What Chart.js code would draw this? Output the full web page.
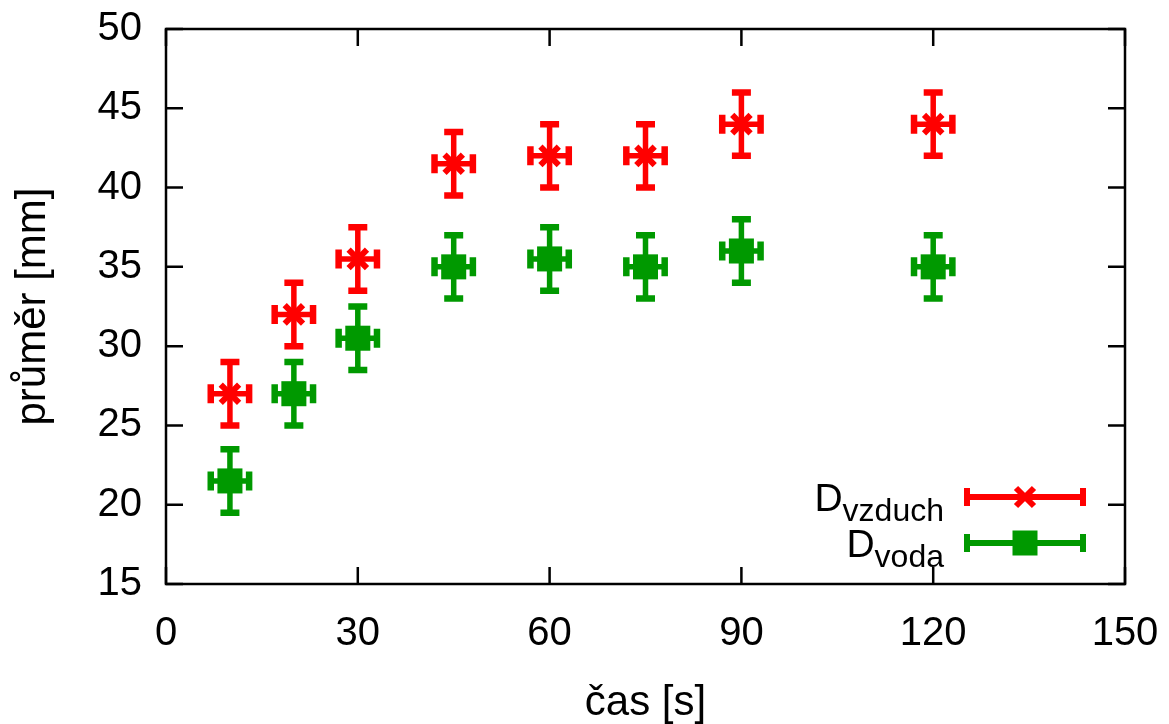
<!DOCTYPE html>
<html>
<head>
<meta charset="utf-8">
<script src="https://cdn.jsdelivr.net/npm/chart.js@4.4.0/dist/chart.umd.min.js"></script>
<style>
  html, body { margin: 0; padding: 0; background: #fff; }
  #wrap { width: 1169px; height: 724px; }
</style>
</head>
<body>
<div id="wrap"><canvas id="chart" width="1169" height="724"></canvas></div>
<script>
// cas v sekundach
const casS = [10, 20, 30, 45, 60, 75, 90, 120];
// prumer ve vzduchu a ve vode [mm]
const dVzduch = [27, 32, 35.5, 41.5, 42, 42, 44, 44];
const dVoda = [21.5, 27, 30.5, 35, 35.5, 35, 36, 35];
// chyby mereni
const chybaCas = [3, 3, 3, 3, 3, 3, 3, 3];
const chybaPrumer = [2, 2, 2, 2, 2, 2, 2, 2];
// popisky os
const xTicks = [0, 30, 60, 90, 120, 150];
const yTicks = [15, 20, 25, 30, 35, 40, 45, 50];

const FONT = "'Liberation Sans', Arial, sans-serif";
const RED = '#ff0000';
const GREEN = '#009900';

function makeData(values) {
  return casS.map((t, i) => ({ x: t, y: values[i], ex: chybaCas[i], ey: chybaPrumer[i] }));
}

// chybove usecky (xyerrorbars)
const errorBars = {
  id: 'errorBars',
  beforeDatasetsDraw(chart) {
    const { ctx, scales: { x, y } } = chart;
    const cap = 9.5;
    chart.data.datasets.forEach(ds => {
      ctx.save();
      ctx.strokeStyle = ds.borderColor;
      ctx.lineCap = 'butt';
      ds.data.forEach(p => {
        const cx = x.getPixelForValue(p.x), cy = y.getPixelForValue(p.y);
        const x0 = x.getPixelForValue(p.x - p.ex), x1 = x.getPixelForValue(p.x + p.ex);
        const y0 = y.getPixelForValue(p.y - p.ey), y1 = y.getPixelForValue(p.y + p.ey);
        ctx.lineWidth = 5.5;
        ctx.beginPath();
        ctx.moveTo(x0, cy); ctx.lineTo(x1, cy);
        ctx.moveTo(cx, y0); ctx.lineTo(cx, y1);
        ctx.stroke();
        ctx.lineWidth = 6.5;
        ctx.beginPath();
        ctx.moveTo(x0, cy - cap); ctx.lineTo(x0, cy + cap);
        ctx.moveTo(x1, cy - cap); ctx.lineTo(x1, cy + cap);
        ctx.moveTo(cx - cap, y0); ctx.lineTo(cx + cap, y0);
        ctx.moveTo(cx - cap, y1); ctx.lineTo(cx + cap, y1);
        ctx.stroke();
      });
      ctx.restore();
    });
  }
};

// legenda s dolnim indexem
const subLegend = {
  id: 'subLegend',
  afterDatasetsDraw(chart) {
    const ctx = chart.ctx;
    const items = [
      { sub: 'vzduch', y: 497, color: RED, marker: 'x' },
      { sub: 'voda', y: 543, color: GREEN, marker: 'sq' }
    ];
    const right = 944, l0 = 967, l1 = 1083, mx = 1025;
    ctx.save();
    items.forEach(it => {
      ctx.fillStyle = '#000';
      ctx.textBaseline = 'alphabetic';
      ctx.textAlign = 'left';
      ctx.font = '39px ' + FONT;
      const wD = ctx.measureText('D').width;
      ctx.font = '32px ' + FONT;
      const wS = ctx.measureText(it.sub).width;
      const start = right - wD - wS;
      ctx.font = '39px ' + FONT;
      ctx.fillText('D', start, it.y + 14);
      ctx.font = '32px ' + FONT;
      ctx.fillText(it.sub, start + wD, it.y + 24);

      ctx.strokeStyle = it.color;
      ctx.lineWidth = 6;
      ctx.beginPath();
      ctx.moveTo(l0, it.y); ctx.lineTo(l1, it.y);
      ctx.moveTo(l0, it.y - 9); ctx.lineTo(l0, it.y + 9);
      ctx.moveTo(l1, it.y - 9); ctx.lineTo(l1, it.y + 9);
      ctx.stroke();
      if (it.marker === 'x') {
        ctx.beginPath();
        ctx.moveTo(mx - 9, it.y - 9); ctx.lineTo(mx + 9, it.y + 9);
        ctx.moveTo(mx - 9, it.y + 9); ctx.lineTo(mx + 9, it.y - 9);
        ctx.stroke();
      } else {
        ctx.fillStyle = it.color;
        ctx.fillRect(mx - 12.5, it.y - 12.5, 25, 25);
      }
    });
    ctx.restore();
  }
};

// ramecek a znacky smerem dovnitr
const frame = {
  id: 'frame',
  afterDraw(chart) {
    const { ctx, chartArea: a, scales: { x, y } } = chart;
    const tl = 17;
    ctx.save();
    ctx.strokeStyle = '#000';
    ctx.lineWidth = 2.5;
    ctx.beginPath();
    xTicks.forEach(v => {
      const px = x.getPixelForValue(v);
      ctx.moveTo(px, a.bottom); ctx.lineTo(px, a.bottom - tl);
      ctx.moveTo(px, a.top); ctx.lineTo(px, a.top + tl);
    });
    yTicks.forEach(v => {
      const py = y.getPixelForValue(v);
      ctx.moveTo(a.left, py); ctx.lineTo(a.left + tl, py);
      ctx.moveTo(a.right, py); ctx.lineTo(a.right - tl, py);
    });
    ctx.stroke();
    ctx.strokeRect(a.left, a.top, a.right - a.left, a.bottom - a.top);
    ctx.restore();
  }
};

const tickFont = { family: FONT, size: 40 };
const titleFont = { family: FONT, size: 42, lineHeight: 1 };

new Chart(document.getElementById('chart'), {
  type: 'scatter',
  data: {
    datasets: [
      {
        label: 'D vzduch',
        data: makeData(dVzduch),
        borderColor: RED,
        backgroundColor: RED,
        pointStyle: 'crossRot',
        pointRadius: 13,
        pointBorderWidth: 6
      },
      {
        label: 'D voda',
        data: makeData(dVoda),
        borderColor: GREEN,
        backgroundColor: GREEN,
        pointStyle: 'rect',
        pointRadius: 17.7,
        pointBorderWidth: 0
      }
    ]
  },
  options: {
    responsive: false,
    animation: false,
    devicePixelRatio: 1,
    layout: { padding: { left: 0, right: 44, top: 29, bottom: 0 } },
    plugins: { legend: { display: false }, tooltip: { enabled: false } },
    scales: {
      x: {
        type: 'linear', min: 0, max: 150,
        afterBuildTicks: s => { s.ticks = xTicks.map(v => ({ value: v })); },
        ticks: { color: '#000', font: tickFont, padding: 26, maxRotation: 0 },
        grid: { display: false, drawTicks: false },
        border: { display: false },
        title: { display: true, text: 'čas [s]', color: '#000', font: titleFont, padding: 0 },
        afterFit: s => {
          s.height = 140;
          s.paddingLeft = 0; s.paddingRight = 0;
        }
      },
      y: {
        type: 'linear', min: 15, max: 50,
        afterBuildTicks: s => { s.ticks = yTicks.map(v => ({ value: v })); },
        ticks: { color: '#000', font: tickFont, padding: 24 },
        grid: { display: false, drawTicks: false },
        border: { display: false },
        title: { display: true, text: 'průměr [mm]', color: '#000', font: titleFont, padding: { top: 12, bottom: 0 } },
        afterFit: s => {
          s.width = 166;
          s.paddingTop = 0; s.paddingBottom = 0;
        }
      }
    }
  },
  plugins: [errorBars, subLegend, frame]
});
</script>
</body>
</html>
